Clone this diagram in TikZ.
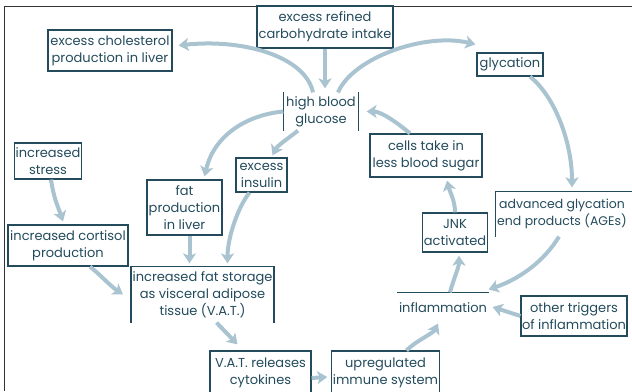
\documentclass[tikz,border=0pt]{standalone}
\usepackage{fontspec}
\setmainfont{Poppins}
\usetikzlibrary{arrows.meta}
\definecolor{boxcol}{HTML}{234B5C}
\definecolor{flowcol}{HTML}{A9C4D0}
\tikzset{
  box/.style={draw=boxcol, line width=1.2pt, text=boxcol, align=center, inner sep=1pt, font=\fontsize{13}{17}\selectfont},
  bare/.style={box, draw=none},
  side/.style={draw=boxcol, line width=1.2pt},
  flow/.style={draw=flowcol, line width=4pt, -{Stealth[length=10pt,width=13pt,inset=2.5pt]}}
}
\begin{document}
\begin{tikzpicture}[x=1pt,y=-1pt]
\useasboundingbox (0,0) rectangle (632,391);
\clip (0,0) rectangle (632,391);
\draw[gray!40!black, line width=1pt] (4,391) -- (4,6) -- (632,6);
\node[box, minimum width=136pt, minimum height=42pt] (carb) at (325,27) {excess refined\\carbohydrate intake};
\node[box, minimum width=124pt, minimum height=41pt] (chol) at (110,50.5) {excess cholesterol\\production in liver};
\node[bare, minimum width=74pt, minimum height=37pt] (gluc) at (321,111.5) {high blood\\glucose};
\draw[side] (gluc.north west) -- (gluc.south west) (gluc.north east) -- (gluc.south east);
\node[box, minimum width=66pt, minimum height=23pt] (glyc) at (510,64.5) {glycation};
\node[box, minimum width=64pt, minimum height=36pt] (stress) at (48,161) {increased\\stress};
\node[box, minimum width=51pt, minimum height=34pt] (insulin) at (261.5,175) {excess\\insulin};
\node[box, minimum width=75pt, minimum height=55pt] (fatprod) at (184.5,207.5) {fat\\production\\in liver};
\node[box, minimum width=112pt, minimum height=43pt] (cells) at (426,155.5) {cells take in\\less blood sugar};
\node[bare, minimum width=130pt, minimum height=44pt, font=\fontsize{12.5}{17}\selectfont] (ages) at (562,214) {advanced glycation\\end products (AGEs)};
\draw[side] (ages.south west) -- (ages.north west) -- ([xshift=20pt]ages.north east);
\node[box, minimum width=62pt, minimum height=39pt] (jnk) at (455,232.5) {JNK\\activated};
\node[box, minimum width=120pt, minimum height=41pt] (cortisol) at (68,245.5) {increased cortisol\\production};
\node[bare, minimum width=139pt, minimum height=55pt] (fatstore) at (202.5,294.5) {increased fat storage\\as visceral adipose\\tissue (V.A.T.)};
\draw[side] (fatstore.south west) -- (fatstore.north west) -- (fatstore.north east) -- (fatstore.south east);
\node[bare, minimum width=90pt, minimum height=30pt] (inflam) at (443,308) {inflammation};
\draw[side] (inflam.north west) -- (inflam.north east);
\node[box, minimum width=106pt, minimum height=40pt] (other) at (574,316) {other triggers\\of inflammation};
\node[box, minimum width=101pt, minimum height=44pt] (vat) at (260.5,373) {V.A.T. releases\\cytokines};
\node[box, minimum width=101pt, minimum height=44pt] (immune) at (385.5,373) {upregulated\\immune system};
\draw[flow] (carb.south) -- ([xshift=4pt,yshift=4pt]gluc.north);
\draw[flow] ([xshift=-8pt]gluc.north) .. controls +(-8,-37) and +(62,-7) .. ([xshift=6pt,yshift=5pt]chol.east);
\draw[flow] ([xshift=17pt]gluc.north) .. controls +(15,-35) and +(-50,-12) .. ([xshift=-1pt,yshift=8pt]glyc.north west);
\draw[flow] (gluc.west) .. controls +(-34,3) and +(10,-43) .. ([xshift=20pt,yshift=3pt]fatprod.north);
\draw[flow] ([xshift=-23pt]gluc.south) .. controls +(-10,8) and +(5,-10) .. ([xshift=11pt,yshift=2pt]insulin.north);
\draw[flow] ([xshift=20pt]glyc.south) .. controls +(25,20) and +(0,-45) .. ([xshift=10pt,yshift=4pt]ages.north);
\draw[flow] ([xshift=-3pt]ages.south) .. controls +(-15,25) and +(30,-10) .. ([yshift=3pt]inflam.north east);
\draw[flow] ([xshift=7pt]inflam.north) .. controls +(3,-12) and +(0,12) .. ([xshift=4pt,yshift=-3pt]jnk.south);
\draw[flow] (jnk.north) .. controls +(0,-12) and +(3,12) .. ([xshift=21pt,yshift=-3pt]cells.south);
\draw[flow] ([xshift=-16pt]cells.north) .. controls +(-12,-10) and +(15,0) .. ([xshift=8pt]gluc.east);
\draw[flow] (other.west) -- ([xshift=4pt,yshift=1pt]inflam.east);
\draw[flow] ([xshift=3pt]stress.south) .. controls +(3,20) and +(-5,-15) .. ([xshift=-5pt,yshift=3pt]cortisol.north);
\draw[flow] ([xshift=22pt]cortisol.south) .. controls +(10,8) and +(-12,-8) .. ([xshift=-8pt]fatstore.west);
\draw[flow] ([xshift=5pt]fatprod.south) -- ([xshift=-13pt,yshift=3pt]fatstore.north);
\draw[flow] ([xshift=-12pt]insulin.south) .. controls +(-12,15) and +(0,-25) .. ([xshift=25pt,yshift=3pt]fatstore.north);
\draw[flow] ([xshift=14pt]fatstore.south) -- ([xshift=-23pt,yshift=6pt]vat.north);
\draw[flow] ([yshift=-5pt]vat.east) -- ([xshift=-4pt,yshift=-4pt]immune.west);
\draw[flow] ([xshift=21pt]immune.north) .. controls +(10,-10) and +(-5,10) .. ([xshift=-5pt]inflam.south);
\end{tikzpicture}
\end{document}
